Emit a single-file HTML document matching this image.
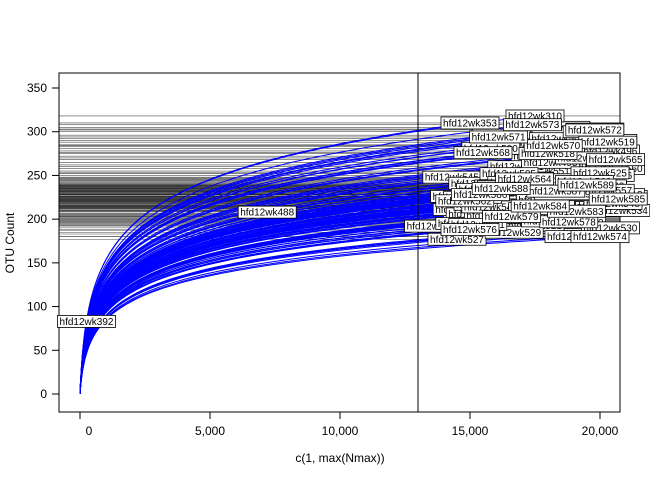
<!DOCTYPE html>
<html><head><meta charset="utf-8"><style>
body{margin:0;background:#fff;}
svg{display:block;font-family:"Liberation Sans",Arial,sans-serif;}
</style></head><body>
<svg id="chart" width="650" height="480"></svg>
<script>
const sampleNames = ['hfd12wk392','hfd12wk488','hfd12wk494','hfd12wk545','hfd12wk353','hfd12wk354','hfd12wk402','hfd12wk401','hfd12wk310','hfd12wk467','hfd12wk464','hfd12wk468','hfd12wk400','hfd12wk551','hfd12wk555','hfd12wk567','hfd12wk569','hfd12wk580','hfd12wk582','hfd12wk581','hfd12wk577','hfd12wk575','hfd12wk484','hfd12wk566','hfd12wk560','hfd12wk561','hfd12wk470','hfd12wk471','hfd12wk472','hfd12wk473','hfd12wk474','hfd12wk475','hfd12wk476','hfd12wk477','hfd12wk478','hfd12wk479','hfd12wk480','hfd12wk481','hfd12wk482','hfd12wk483','hfd12wk485','hfd12wk486','hfd12wk487','hfd12wk489','hfd12wk490','hfd12wk491','hfd12wk492','hfd12wk493','hfd12wk495','hfd12wk496','hfd12wk497','hfd12wk498','hfd12wk499','hfd12wk500','hfd12wk501','hfd12wk502','hfd12wk503','hfd12wk504','hfd12wk505','hfd12wk506','hfd12wk507','hfd12wk508','hfd12wk509','hfd12wk510','hfd12wk511','hfd12wk512','hfd12wk513','hfd12wk514','hfd12wk515','hfd12wk516','hfd12wk517','hfd12wk518','hfd12wk519','hfd12wk520','hfd12wk521','hfd12wk522','hfd12wk523','hfd12wk524','hfd12wk525','hfd12wk526',
'hfd12wk527','hfd12wk528','hfd12wk529','hfd12wk530','hfd12wk531','hfd12wk532','hfd12wk533','hfd12wk534','hfd12wk535','hfd12wk536','hfd12wk537','hfd12wk538','hfd12wk539','hfd12wk540','hfd12wk541','hfd12wk542','hfd12wk543','hfd12wk544','hfd12wk546','hfd12wk547','hfd12wk548','hfd12wk549','hfd12wk550','hfd12wk552','hfd12wk553','hfd12wk554','hfd12wk556','hfd12wk557','hfd12wk558','hfd12wk559','hfd12wk562','hfd12wk563','hfd12wk564','hfd12wk565','hfd12wk568','hfd12wk570','hfd12wk571','hfd12wk572','hfd12wk573','hfd12wk574','hfd12wk576','hfd12wk578','hfd12wk579','hfd12wk583','hfd12wk584','hfd12wk585','hfd12wk586','hfd12wk587','hfd12wk588','hfd12wk589'];
const sampleDepth = [250,7200,13600,14300,15000,16200,18500,19800,17500,16900,18800,17700,20300,17800,20000,17600,16900,19500,15900,18800,18300,19300,15100,19900,20600,16800,15700,16700,16000,19200,15400,17300,18200,20500,16600,14900,15300,18900,19600,16400,17100,20200,18600,14700,16300,19000,17900,15600,18100,20400,16100,17400,19400,15800,20700,17000,18400,19700,16500,15200,20100,17200,18700,19100,16800,15500,20600,17800,14800,19300,16200,18000,20300,15900,17500,19900,16600,18300,20000,17700,
14500,19000,16700,20400,15300,18100,17300,20800,16000,19600,14900,18700,17000,20100,15600,18400,16300,19200,14600,17900,20500,15800,18900,16900,19700,15100,17600,20200,16400,18600,14800,19400,17100,20600,15500,18200,16100,19800,17400,20000,15000,18800,16600,19100,17700,20700,15400,18300,16200,19500];
const sampleRich = [83,208,192,248,310,296,305,303,318,285,283,272,290,255,262,234,221,210,203,201,187,183,200,244,258,260,229,226,218,222,215,212,207,214,237,219,241,231,235,225,247,250,233,211,223,239,245,229,265,278,220,216,270,281,226,213,292,300,252,206,224,236,199,196,242,217,228,209,195,232,219,275,288,204,193,238,202,221,253,213,
177,180,185,190,194,198,205,210,216,220,224,227,230,232,234,236,238,240,226,222,218,214,231,235,228,225,212,233,237,229,221,243,246,268,276,284,294,302,308,180,188,197,203,209,215,223,228,232,235,239];

const svg=document.getElementById('chart');
const NS='http://www.w3.org/2000/svg';
const L=59,R=620,T=73,B=412;
const xs=v=>80+v*0.026;
const ys=v=>394-v*(306/350);
function mk(tag,attrs,parent){const e=document.createElementNS(NS,tag);for(const k in attrs)e.setAttribute(k,attrs[k]);(parent||svg).appendChild(e);return e;}

const clip=mk('clipPath',{id:'pc'});mk('rect',{x:L,y:T,width:R-L,height:B-T},clip);
const gLines=mk('g',{'clip-path':'url(#pc)'});


sampleRich.forEach((s,i)=>{
  if(sampleDepth[i]<13000) return;
  const l=mk('line',{x1:L,x2:R,y1:ys(s),y2:ys(s),stroke:'#000','stroke-width':0.6,'stroke-opacity':0.7},gLines);
  
  
});
const gCurves=mk('g',{'clip-path':'url(#pc)'});


const C=80;
const h=v=>Math.log(1+v/C);
sampleDepth.forEach((n,i)=>{
  const s=sampleRich[i];
  let d='';
  for(let j=0;j<=80;j++){const v=n*Math.pow(j/80,2);const y=s*h(v)/h(n);d+=(j?'L':'M')+xs(v).toFixed(1)+','+ys(y).toFixed(1);}
  const p=mk('path',{d:d,fill:'none',stroke:'#0000ff','stroke-width':1},gCurves);
  
  
});
const vl=mk('line',{x1:xs(13000),x2:xs(13000),y1:T,y2:B,stroke:'#000','stroke-width':1});


const box=mk('rect',{x:L,y:T,width:R-L,height:B-T,fill:'none',stroke:'#000','stroke-width':1});



const gLab=mk('g',{});


sampleDepth.forEach((n,i)=>{
  const cx=xs(n),cy=ys(sampleRich[i]);const w=58;
  const g=mk('g',{},gLab);
  
  
  mk('rect',{x:cx-w/2,y:cy-6,width:w,height:12,fill:'#fff',stroke:'#000','stroke-width':0.8},g);
  const t=mk('text',{x:cx,y:cy+3.5,'text-anchor':'middle','font-size':10},g);t.textContent=sampleNames[i];
});

const xTicks=[0,5000,10000,15000,20000];
const xTickLabels=['0','5,000','10,000','15,000','20,000'];
const yTicks=[0,50,100,150,200,250,300,350];
xTicks.forEach((v,i)=>{
  const tk=mk('line',{x1:xs(v),x2:xs(v),y1:B,y2:B+7,stroke:'#000'});
  
  const t=mk('text',{x:xs(v)+(i==0?9:0),y:B+23,'text-anchor':'middle','font-size':12});t.textContent=xTickLabels[i];
  
});
yTicks.forEach(v=>{
  const tk=mk('line',{x1:L-7,x2:L,y1:ys(v),y2:ys(v),stroke:'#000'});
  
  const t=mk('text',{x:L-12,y:ys(v)+4,'text-anchor':'end','font-size':12});t.textContent=v;
  
});
const xt=mk('text',{x:340,y:462,'text-anchor':'middle','font-size':12});xt.textContent='c(1, max(Nmax))';

const yt=mk('text',{x:14,y:243,'text-anchor':'middle','font-size':12,transform:'rotate(-90 14 243)'});yt.textContent='OTU Count';

</script>
</body></html>
